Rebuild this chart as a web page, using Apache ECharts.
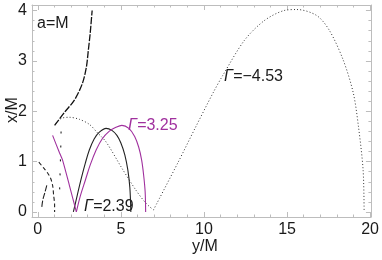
<!DOCTYPE html>
<html><head><meta charset="utf-8">
<script src="https://cdn.jsdelivr.net/npm/echarts@6/dist/echarts.min.js"></script>
<style>html,body{margin:0;padding:0;background:#fff}#c{width:382px;height:260px}</style>
</head><body><div id="c"></div>
<script>
// tick labels
const xTickValues = [0, 5, 10, 15, 20];
const xMinorValues = [1,2,3,4,6,7,8,9,11,12,13,14,16,17,18,19];
const yTickValues = [0, 1, 2, 3, 4];
const yMinorValues = [0.2,0.4,0.6,0.8,1.2,1.4,1.6,1.8,2.2,2.4,2.6,2.8,3.2,3.4,3.6,3.8];

// curves: [y/M, x/M]
const curveA = [[1.01,1.72],[1.61,1.98],[2.2,2.22],[2.68,2.55],[2.92,2.87],[3.04,3.21],[3.15,3.54],[3.27,4.0]];
const dottedLeft = [[1.07,1.76],[1.43,1.86],[1.9,1.88],[2.5,1.84],[3.1,1.74],[3.57,1.58],[4.11,1.39],[5.06,0.87],[5.89,0.44],[6.49,0.18],[6.96,0.04]];
const dottedRight = [[6.96,0.04],[8.45,0.99],[9.46,1.66],[10.54,2.36],[11.13,2.71],[12.44,3.41],[13.63,3.80],[14.82,4.0],[15.6,4.02],[16.79,3.90],[17.56,3.60],[18.39,3.01],[18.99,2.36],[19.29,1.72],[19.58,0.83],[19.64,0.0]];
const blackArch = [[2.14,0],[2.38,0.34],[2.62,0.67],[2.86,0.97],[3.10,1.23],[3.39,1.45],[3.69,1.58],[4.11,1.66],[4.46,1.62],[4.76,1.52],[5.0,1.37],[5.24,1.13],[5.42,0.83],[5.54,0.48],[5.6,0]];
const purpleLeft = [[0.89,1.52],[1.31,1.17],[1.49,1.03],[1.9,0.53],[2.32,0]];
const purpleArch = [[2.32,0],[2.56,0.32],[2.86,0.63],[3.15,0.93],[3.51,1.23],[3.87,1.45],[4.29,1.6],[4.70,1.68],[5.06,1.72],[5.48,1.66],[5.83,1.5],[6.07,1.29],[6.25,1.03],[6.37,0.73],[6.46,0.40],[6.49,0]];
const curveE1 = [[0.06,0.99],[0.36,0.87],[0.6,0.77],[0.77,0.67],[0.89,0.53],[0.95,0.34],[1.01,0.14],[1.01,0]];
const curveE2 = [[0.54,0.53],[0.42,0.38],[0.3,0.24],[0.24,0.1]];
const curveF = [[1.4,1.6],[1.38,1.25],[1.31,0.4]];

const frame = '#bdbdbd';
const txt = '#1a1a1a';
const purple = '#a0309e';
const font = 'Liberation Sans, Arial, sans-serif';

function xAx(pos, vals, len, showLabel, showLine) {
  return {type:'value', position:pos, min:-0.35, max:20.05,
    axisLine:{show:showLine, onZero:false, lineStyle:{color:frame, width:1}},
    axisTick:{show:true, inside:true, length:len, customValues:vals, lineStyle:{color:frame}},
    axisLabel:{show:showLabel, customValues:vals, color:txt, fontSize:16, fontFamily:font, margin:5},
    splitLine:{show:false}};
}
function yAx(pos, vals, len, showLabel, showLine) {
  return {type:'value', position:pos, min:-0.1, max:4.11,
    axisLine:{show:showLine, onZero:false, lineStyle:{color:frame, width:1}},
    axisTick:{show:true, inside:true, length:len, customValues:vals, lineStyle:{color:frame}},
    axisLabel:{show:showLabel, customValues:vals, color:txt, fontSize:16, fontFamily:font, margin:5},
    splitLine:{show:false}};
}

function ln(data, color, width, type, smooth) {
  return {type:'line', data:data, xAxisIndex:0, yAxisIndex:0, showSymbol:false, symbol:'none',
    smooth:smooth, silent:true, animation:false,
    lineStyle:{color:color, width:width, type:type}};
}

const chart = echarts.init(document.getElementById('c'), null, {renderer:'canvas'});
chart.setOption({
  animation:false,
  backgroundColor:'#fff',
  grid:{left:32, right:7, top:5, bottom:43, containLabel:false},
  xAxis:[
    xAx('bottom', xTickValues, 5, true, true),
    xAx('bottom', xMinorValues, 2.5, false, false),
    xAx('top', xTickValues, 5, false, true),
    xAx('top', xMinorValues, 2.5, false, false)
  ],
  yAxis:[
    yAx('left', yTickValues, 5, true, true),
    yAx('left', yMinorValues, 2.5, false, false),
    yAx('right', yTickValues, 5, false, true),
    yAx('right', yMinorValues, 2.5, false, false)
  ],
  series:[
    ln(dottedLeft, '#333', 1, [1,2.2], 0.3),
    ln(dottedRight, '#333', 1, [1,2.2], 0.3),
    ln(blackArch, '#222', 1.1, 'solid', 0.35),
    ln(purpleLeft, purple, 1.1, 'solid', 0.2),
    ln(purpleArch, purple, 1.1, 'solid', 0.35),
    ln(curveA, '#111', 1.3, [7,1.5], 0.3),
    ln(curveE1, '#222', 1.1, [4,2.5], 0.3),
    ln(curveE2, '#222', 1.1, [6,2], 0.3),
    ln(curveF, '#222', 1.1, [2,12], 0)
  ],
  graphic:[
    {type:'text', left:37, top:16, style:{text:'a=M', fill:txt, font:'16px '+font}},
    {type:'text', x:205, y:247, style:{text:'y/M', fill:txt, font:'16px '+font, align:'center', verticalAlign:'middle'}},
    {type:'text', x:13, y:110, rotation:Math.PI/2, style:{text:'x/M', fill:txt, font:'16px '+font, align:'center', verticalAlign:'middle'}},
    {type:'text', x:84, y:207, style:{text:'{g|Γ}=2.39', fill:txt, font:'16px '+font, verticalAlign:'middle',
      rich:{g:{fontStyle:'italic', fontSize:16, fontFamily:font, fill:txt}}}},
    {type:'text', x:128, y:126, style:{text:'{g|Γ}=3.25', fill:purple, font:'16px '+font, verticalAlign:'middle',
      rich:{g:{fontStyle:'italic', fontSize:16, fontFamily:font, fill:purple}}}},
    {type:'text', x:224, y:77, style:{text:'{g|Γ}=\u22124.53', fill:txt, font:'16px '+font, verticalAlign:'middle',
      rich:{g:{fontStyle:'italic', fontSize:16, fontFamily:font, fill:txt}}}}
  ]
});
</script>
</body></html>
